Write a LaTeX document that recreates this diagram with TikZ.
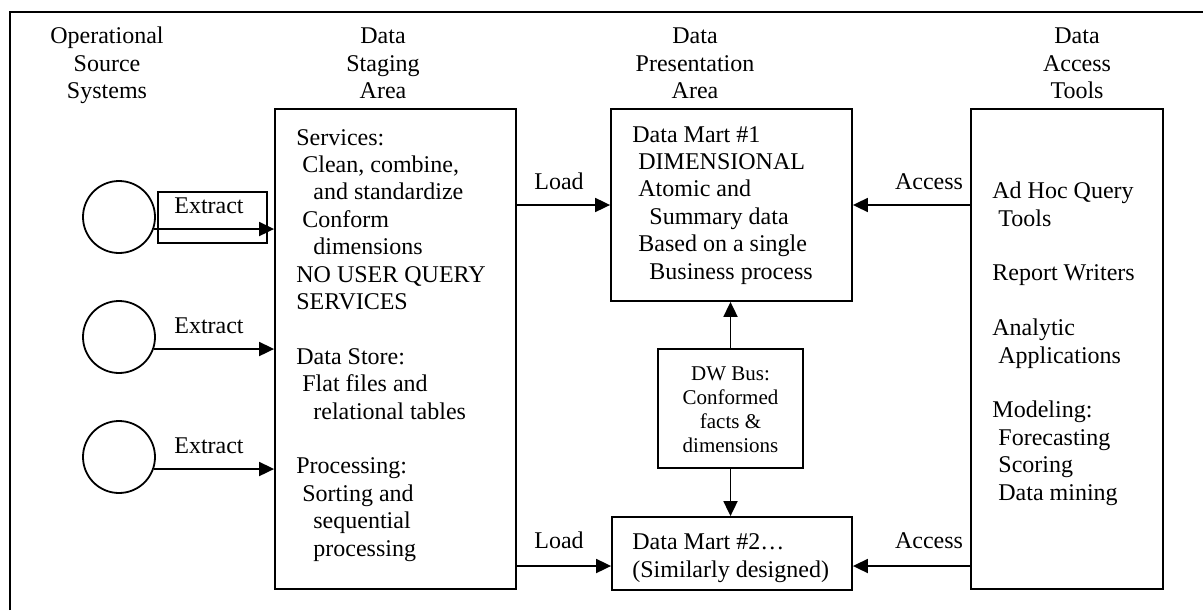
\documentclass[tikz,border=0pt]{standalone}
\usepackage{fontspec}
\setmainfont{Liberation Serif}
\usetikzlibrary{arrows.meta}
\newcommand{\indA}{\hspace*{3pt}}
\newcommand{\indB}{\hspace*{8.5pt}}
\newcommand{\rowgap}{13.7pt}
\tikzset{
  box/.style={draw,line width=0.9pt,inner sep=0pt},
  src/.style={draw,circle,line width=0.9pt,minimum size=36pt,inner sep=0pt},
  arr/.style={line width=0.9pt,-{Triangle[length=7.5pt,width=7pt]}},
  txt/.style={font=\fontsize{12}{13.7}\selectfont,inner sep=0pt,align=left,anchor=base west},
  head/.style={font=\fontsize{12}{13.7}\selectfont,inner sep=0pt,align=center,anchor=base},
  lbl/.style={font=\fontsize{12}{13.7}\selectfont,inner sep=0pt,anchor=base},
}

\begin{document}
\begin{tikzpicture}[x=0.5pt,y=-0.5pt]
\useasboundingbox (0,0) rectangle (1203,610);

%% ---------------- frame and column heads ----------------
% multi-line nodes sit on the baseline of their last line
\draw[line width=1pt] (10,610) -- (10,12) -- (1203,12);
\node[head] (hsrc)   at (107,98.8)  {Operational\\Source\\Systems};
\node[head] (hstage) at (383,98.8)  {Data\\Staging\\Area};
\node[head] (hpres)  at (695,98.8)  {Data\\Presentation\\Area};
\node[head] (hacc)   at (1077,98.8) {Data\\Access\\Tools};

%% ---------------- boxes ----------------
\node[box,minimum width=120.5pt,minimum height=240pt] (stage) at (395.5,349) {};
\node[box,minimum width=120.5pt,minimum height=96pt]  (mart1) at (731.5,205) {};
\node[box,minimum width=120pt,minimum height=36.5pt]  (mart2) at (732,553.5) {};
\node[box,minimum width=72.5pt,minimum height=59.5pt] (bus)   at (730.5,408.5) {};
\node[box,minimum width=96pt,minimum height=240pt]    (tools) at (1067,349) {};
\node[box,minimum width=54.5pt,minimum height=25.5pt] (xbox)  at (212.5,217.5) {};

%% ---------------- source systems ----------------
\foreach \i/\y in {1/217,2/337,3/457}{
  \node[src] (src\i) at (119,\y) {};
  \node[lbl] (ext\i) at (209,\y-4) {Extract};
  \draw[arr] (src\i.-19) -- (src\i.-19 -| stage.west);
}

%% ---------------- box texts ----------------
\node[txt] (tstage) at (296,556) {Services:\\
  \indA Clean, combine,\\
  \indB and standardize\\
  \indA Conform\\
  \indB dimensions\\
  NO USER QUERY\\
  SERVICES\\[\rowgap]
  Data Store:\\
  \indA Flat files and\\
  \indB relational tables\\[\rowgap]
  Processing:\\
  \indA Sorting and\\
  \indB sequential\\
  \indB processing};
\node[txt] (tmart1) at (632,279) {Data Mart \#1\\
  \indA DIMENSIONAL\\
  \indA Atomic and\\
  \indB Summary data\\
  \indA Based on a single\\
  \indB Business process};
\begin{scope}
  \clip (612,517) rectangle (852,583);
  \node[txt] (tmart2) at (632,577) {Data Mart \#2\dots\\(Similarly designed)};
\end{scope}
\node[head,font=\fontsize{10.5}{12}\selectfont] (tbus) at (730.5,452)
  {DW Bus:\\Conformed\\facts \&\\dimensions};
\node[txt] (ttools) at (992,500) {Ad Hoc Query\\
  \indA Tools\\[\rowgap]
  Report Writers\\[\rowgap]
  Analytic\\
  \indA Applications\\[\rowgap]
  Modeling:\\
  \indA Forecasting\\
  \indA Scoring\\
  \indA Data mining};

%% ---------------- load, access and bus arrows ----------------
\draw[arr] (mart1.west -| stage.east) -- (mart1.west);
\draw[arr] ([yshift=-6.25pt]mart2.west -| stage.east) -- ([yshift=-6.25pt]mart2.west);
\draw[arr] (mart1.east -| tools.west) -- (mart1.east);
\draw[arr] ([yshift=-6.25pt]mart2.east -| tools.west) -- ([yshift=-6.25pt]mart2.east);
\node[lbl] (load1) at (559,189) {Load};
\node[lbl] (load2) at (559,548) {Load};
\node[lbl] (acc1)  at (929,189) {Access};
\node[lbl] (acc2)  at (929,548) {Access};
\draw[arr] (bus.north) -- (bus.north |- mart1.south);
\draw[arr] (bus.south) -- (bus.south |- mart2.north);

\end{tikzpicture}
\end{document}
